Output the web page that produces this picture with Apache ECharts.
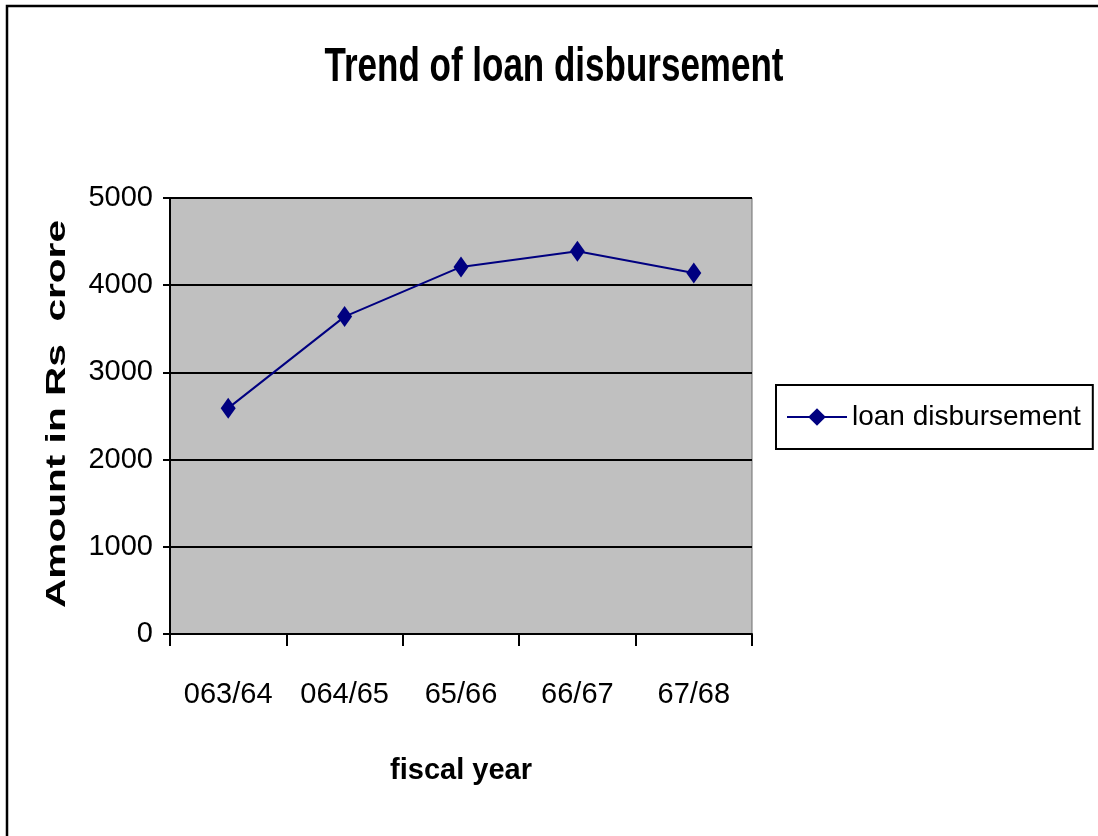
<!DOCTYPE html>
<html>
<head>
<meta charset="utf-8">
<title>Trend of loan disbursement</title>
<script src="https://cdn.jsdelivr.net/npm/echarts@6/dist/echarts.min.js"></script>
<style>
  html, body { margin: 0; padding: 0; background: #ffffff; }
  #chart { width: 1098px; height: 836px; }
</style>
</head>
<body>
<div id="chart"></div>
<script>
// Fiscal years and loan disbursement (Rs crore)
const fiscalYears = ['063/64', '064/65', '65/66', '66/67', '67/68'];
const loanDisbursement = [2590, 3640, 4210, 4390, 4140];
const yTicks = { min: 0, max: 5000, interval: 1000 };

const SANS = "'Liberation Sans', Arial, sans-serif";

const chart = echarts.init(document.getElementById('chart'), null, { renderer: 'canvas' });

chart.setOption({
  animation: false,
  backgroundColor: '#ffffff',
  graphic: [
    // outer chart frame
    {
      type: 'rect',
      shape: { x: 7, y: 6, width: 1300, height: 1000 },
      style: { fill: 'none', stroke: '#000', lineWidth: 2.5 },
      silent: true
    },
    // chart title, tall condensed lettering
    {
      type: 'text',
      x: 554,
      y: 68,
      scaleY: 1.35,
      style: {
        text: 'Trend of loan disbursement',
        fontFamily: SANS,
        fontWeight: 'bold',
        fontSize: 35,
        fill: '#000',
        align: 'center',
        verticalAlign: 'middle'
      }
    },
    // value axis title
    {
      type: 'text',
      x: 57,
      y: 414,
      rotation: Math.PI / 2,
      scaleX: 1.45,
      style: {
        text: 'Amount in Rs  crore',
        fontFamily: SANS,
        fontWeight: 'bold',
        fontSize: 28,
        fill: '#000',
        align: 'center',
        verticalAlign: 'middle'
      }
    }
  ],
  legend: {
    left: 776,
    top: 385,
    orient: 'vertical',
    itemWidth: 60,
    itemHeight: 22,
    itemGap: 0,
    padding: [18, 12, 18, 10],
    borderColor: '#000',
    borderWidth: 2,
    backgroundColor: '#fff',
    textStyle: { fontFamily: SANS, fontSize: 28, color: '#000' },
    data: ['loan disbursement']
  },
  grid: {
    left: 170,
    right: 346,
    top: 198,
    bottom: 202,
    show: true,
    backgroundColor: '#c0c0c0',
    borderColor: '#6e6e6e',
    borderWidth: 1
  },
  xAxis: {
    type: 'category',
    data: fiscalYears,
    boundaryGap: true,
    name: 'fiscal year',
    nameLocation: 'middle',
    nameGap: 122,
    nameTextStyle: { fontFamily: SANS, fontWeight: 'bold', fontSize: 29, color: '#000' },
    axisLine: { show: true, lineStyle: { color: '#000', width: 2 } },
    axisTick: { show: true, alignWithLabel: false, length: 12, lineStyle: { color: '#000', width: 2 } },
    axisLabel: { interval: 0, fontFamily: SANS, fontSize: 29, color: '#000', margin: 46 },
    splitLine: { show: false }
  },
  yAxis: {
    type: 'value',
    min: yTicks.min,
    max: yTicks.max,
    interval: yTicks.interval,
    axisLine: { show: true, lineStyle: { color: '#000', width: 2 } },
    axisTick: { show: true, length: 7, lineStyle: { color: '#000', width: 2 } },
    axisLabel: {
      fontFamily: SANS,
      fontSize: 29,
      color: '#000',
      margin: 17,
      formatter: function (v) { return String(v); }
    },
    splitLine: { show: true, lineStyle: { color: '#000', width: 2 } }
  },
  series: [
    {
      name: 'loan disbursement',
      type: 'line',
      data: loanDisbursement,
      symbol: 'diamond',
      symbolSize: [15, 21],
      itemStyle: { color: '#000080' },
      lineStyle: { color: '#000080', width: 2 }
    }
  ]
});
</script>
</body>
</html>
